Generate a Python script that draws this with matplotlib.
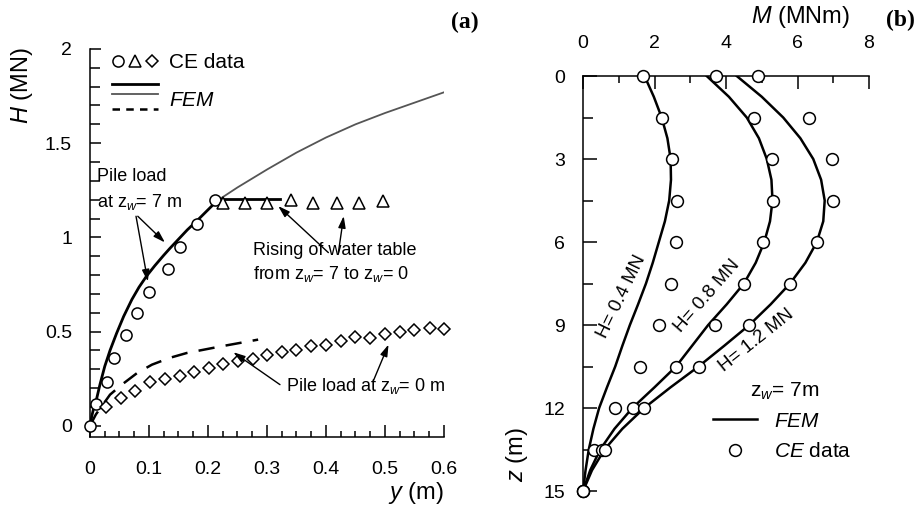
import matplotlib
matplotlib.use("Agg")
import matplotlib.pyplot as plt
from matplotlib.lines import Line2D
from matplotlib.legend_handler import HandlerBase, HandlerTuple
from matplotlib.ticker import MultipleLocator, FixedLocator, FixedFormatter

plt.rcParams['font.family'] = ['Liberation Sans', 'DejaVu Sans']
plt.rcParams['mathtext.fontset'] = 'custom'
plt.rcParams['mathtext.rm'] = 'Liberation Sans'
plt.rcParams['mathtext.it'] = 'Liberation Sans:italic'

# ---- (a) load-displacement ----
fem7_y = [0, 0.003, 0.006, 0.011, 0.017, 0.025, 0.034, 0.045, 0.057, 0.071,
          0.083, 0.096, 0.11, 0.125, 0.135, 0.153, 0.165, 0.181, 0.198, 0.215,
          0.25, 0.30, 0.35, 0.40, 0.45, 0.50, 0.55, 0.60]
fem7_H = [0, 0.05, 0.09, 0.14, 0.22, 0.315, 0.40, 0.49, 0.58, 0.67,
          0.735, 0.795, 0.85, 0.905, 0.94, 1.0, 1.04, 1.087, 1.14, 1.193,
          1.265, 1.36, 1.45, 1.53, 1.60, 1.66, 1.715, 1.77]
fem7_split = 19          # thick part ends at y = 0.215

rise_y = [0.215, 0.322]
rise_H = [1.205, 1.205]

fem0_y = [0, 0.01, 0.034, 0.054, 0.08, 0.105, 0.135, 0.164, 0.22, 0.285]
fem0_H = [0, 0.06, 0.165, 0.218, 0.28, 0.324, 0.36, 0.386, 0.42, 0.457]

ce7_y = [0, 0.01, 0.029, 0.041, 0.061, 0.08, 0.10, 0.132, 0.152, 0.181, 0.212]
ce7_H = [0, 0.117, 0.234, 0.36, 0.48, 0.60, 0.71, 0.83, 0.95, 1.07, 1.197]

tri_y = [0.225, 0.263, 0.30, 0.34, 0.378, 0.418, 0.456, 0.496]
tri_H = [1.184, 1.184, 1.184, 1.2, 1.184, 1.184, 1.184, 1.193]

dia_y = [0.027, 0.052, 0.076, 0.102, 0.127, 0.153, 0.176, 0.202, 0.226, 0.251,
         0.277, 0.30, 0.325, 0.35, 0.374, 0.40, 0.425, 0.45, 0.474, 0.50,
         0.525, 0.55, 0.576, 0.60]
dia_H = [0.097, 0.147, 0.186, 0.23, 0.248, 0.266, 0.284, 0.307, 0.328, 0.346,
         0.356, 0.378, 0.39, 0.404, 0.422, 0.43, 0.448, 0.47, 0.465, 0.488,
         0.50, 0.51, 0.52, 0.515]

ya_ticks = [0, 0.5, 1, 1.5, 2]
ya_labels = ['0', '0.5', '1', '1.5', '2']
xa_ticks = [0, 0.1, 0.2, 0.3, 0.4, 0.5, 0.6]
xa_labels = ['0', '0.1', '0.2', '0.3', '0.4', '0.5', '0.6']

# ---- (b) bending moment profiles ----
fem_depth = [0, 0.75, 1.5, 2.25, 3, 3.75, 4.5, 5.25, 6, 6.75, 7.5, 8.25, 9,
             9.75, 10.5, 11.25, 12, 12.75, 13.5, 14.25, 15]
fem_04 = [1.72, 1.98, 2.2, 2.36, 2.45, 2.46, 2.41, 2.29, 2.12, 1.95, 1.76,
          1.54, 1.31, 1.1, 0.9, 0.67, 0.45, 0.29, 0.16, 0.07, 0]
fem_08 = [3.46, 4.08, 4.58, 4.92, 5.14, 5.27, 5.3, 5.23, 5.07, 4.83, 4.5,
          4.02, 3.5, 3.05, 2.6, 2.0, 1.38, 0.88, 0.48, 0.2, 0]
fem_12 = [4.3, 5.0, 5.6, 6.08, 6.44, 6.66, 6.76, 6.72, 6.54, 6.22, 5.79,
          5.25, 4.65, 3.95, 3.23, 2.45, 1.71, 1.1, 0.6, 0.25, 0]

depth = [0, 1.5, 3, 4.5, 6, 7.5, 9, 10.5, 12, 13.5, 15]
ce_04 = [1.69, 2.2, 2.48, 2.62, 2.6, 2.46, 2.13, 1.58, 0.9, 0.31, 0]
ce_08 = [3.72, 4.79, 5.28, 5.32, 5.04, 4.5, 3.69, 2.59, 1.41, 0.52, 0]
ce_12 = [4.90, 6.33, 6.97, 7.0, 6.54, 5.79, 4.65, 3.23, 1.71, 0.62, 0]
load_labels = ['H= 0.4 MN', 'H= 0.8 MN', 'H= 1.2 MN']

zb_ticks = [0, 3, 6, 9, 12, 15]
zb_labels = ['0', '3', '6', '9', '12', '15']
mb_ticks = [0, 2, 4, 6, 8]
mb_labels = ['0', '2', '4', '6', '8']


class HandlerStack(HandlerBase):
    # several lines stacked vertically in one legend entry
    offsets = [0.99, 0.31, -0.72]

    def create_artists(self, legend, orig_handle, xdescent, ydescent,
                       width, height, fontsize, trans):
        arts = []
        for h, off in zip(orig_handle, self.offsets):
            yy = height / 2 + off * height - ydescent
            ln = Line2D([-xdescent, -xdescent + width], [yy, yy],
                        color=h.get_color(), lw=h.get_linewidth(),
                        ls=h.get_linestyle(), transform=trans)
            if h.get_linestyle() == '--':
                ln.set_dashes((3, 2.5))
            arts.append(ln)
        return arts


fig = plt.figure(figsize=(9.24, 5.14), dpi=100)
ax = fig.add_axes([0.0974, 0.1498, 0.3831, 0.7549])
bx = fig.add_axes([0.631, 0.0447, 0.3095, 0.8074])

mk = dict(ls='none', mfc='white', mec='black', mew=1.1, ms=8, clip_on=False)

l_thick, = ax.plot(fem7_y[:fem7_split + 1], fem7_H[:fem7_split + 1],
                   color='black', lw=2.0)
l_thin, = ax.plot(fem7_y[fem7_split:], fem7_H[fem7_split:],
                  color='#555555', lw=1.3)
ax.plot(rise_y, rise_H, color='black', lw=2.0)
l_dash, = ax.plot(fem0_y, fem0_H, color='black', lw=1.8, ls='--',
                  dashes=(6.5, 4.5))
p_c, = ax.plot(ce7_y, ce7_H, marker='o', zorder=3, **mk)
p_t, = ax.plot(tri_y, tri_H, marker='^', zorder=3, **{**mk, 'ms': 8.5})
p_d, = ax.plot(dia_y, dia_H, marker='D', zorder=3, **{**mk, 'ms': 6.5})

ax.set_xlim(0, 0.6)
ax.set_ylim(-0.06, 2)
for s in ['top', 'right']:
    ax.spines[s].set_visible(False)
for s in ['left', 'bottom']:
    ax.spines[s].set_linewidth(1.1)
ax.xaxis.set_major_locator(FixedLocator(xa_ticks))
ax.xaxis.set_major_formatter(FixedFormatter(xa_labels))
ax.xaxis.set_minor_locator(MultipleLocator(0.025))
ax.yaxis.set_major_locator(FixedLocator(ya_ticks))
ax.yaxis.set_major_formatter(FixedFormatter(ya_labels))
ax.yaxis.set_minor_locator(MultipleLocator(0.1))
ax.tick_params(which='both', direction='in', labelsize=14, width=1.1)
ax.tick_params(axis='x', which='major', length=9, pad=17)
ax.tick_params(axis='x', which='minor', length=4.5)
ax.tick_params(axis='y', which='major', length=8, pad=13)
ax.tick_params(axis='y', which='minor', length=7)

ax.set_ylabel(r'$\mathit{H}$ (MN)', fontsize=17, va='center')
ax.yaxis.set_label_coords(-0.192, 0.905)
ax.set_xlabel(r'$\mathit{y}$ (m)', fontsize=17, loc='right', va='center')
ax.xaxis.set_label_coords(1.0, -0.144)

ax.legend([(p_c, p_t, p_d), (l_thick, l_thin, l_dash)],
          ['CE data', r'$\mathit{FEM}$'],
          handler_map={(p_c, p_t, p_d): HandlerTuple(ndivide=None, pad=0.2),
                       (l_thick, l_thin, l_dash): HandlerStack()},
          loc='upper left', bbox_to_anchor=(0.062, 0.99),
          frameon=False, fontsize=15, borderpad=0, borderaxespad=0,
          handlelength=2.2, handletextpad=0.55, labelspacing=0.9)

arw = dict(arrowstyle='-|>,head_length=0.7,head_width=0.22', color='black',
           lw=1.0, shrinkA=0, shrinkB=0)
ax.text(0.012, 1.253, 'Pile load\nat z$_{\\mathit{w}}$= 7 m', fontsize=13,
        ha='left', va='center', linespacing=1.45)
ax.annotate('', xy=(0.127, 0.973), xytext=(0.081, 1.112), arrowprops=arw)
ax.annotate('', xy=(0.098, 0.766), xytext=(0.078, 1.112), arrowprops=arw)

ax.text(0.277, 0.863,
        'Rising of water table\nfrom z$_{\\mathit{w}}$= 7 to z$_{\\mathit{w}}$= 0',
        fontsize=13, ha='left', va='center', linespacing=1.3)
ax.annotate('', xy=(0.319, 1.166), xytext=(0.404, 0.919), arrowprops=arw)
ax.annotate('', xy=(0.43, 1.113), xytext=(0.421, 0.919), arrowprops=arw)

ax.text(0.332, 0.209, 'Pile load at z$_{\\mathit{w}}$= 0 m', fontsize=13,
        ha='left', va='center')
ax.annotate('', xy=(0.243, 0.39), xytext=(0.322, 0.218), arrowprops=arw)
ax.annotate('', xy=(0.506, 0.431), xytext=(0.48, 0.236), arrowprops=arw)

fig.text(0.503, 0.957, '(a)', fontsize=17, fontweight='bold',
         family='Liberation Serif', ha='center', va='center')

# ---- panel (b) ----
for m in [fem_04, fem_08, fem_12]:
    l_fem, = bx.plot(m, fem_depth, color='black', lw=1.8)
for c in [ce_04, ce_08, ce_12]:
    p_ce, = bx.plot(c, depth, marker='o', zorder=3, **{**mk, 'ms': 8.5})

bx.set_xlim(0, 8)
bx.set_ylim(15, 0)
bx.xaxis.tick_top()
bx.xaxis.set_label_position('top')
for s in ['bottom', 'right']:
    bx.spines[s].set_visible(False)
for s in ['left', 'top']:
    bx.spines[s].set_linewidth(1.1)
bx.xaxis.set_major_locator(FixedLocator(mb_ticks))
bx.xaxis.set_major_formatter(FixedFormatter(mb_labels))
bx.xaxis.set_minor_locator(MultipleLocator(1))
bx.yaxis.set_major_locator(FixedLocator(zb_ticks))
bx.yaxis.set_major_formatter(FixedFormatter(zb_labels))
bx.yaxis.set_minor_locator(MultipleLocator(1.5))
bx.tick_params(which='both', direction='in', labelsize=14, width=1.1)
bx.tick_params(axis='x', which='major', length=9, pad=17)
bx.tick_params(axis='x', which='minor', length=5)
bx.tick_params(axis='y', which='major', length=10, pad=13)
bx.tick_params(axis='y', which='minor', length=7)

bx.set_xlabel(r'$\mathit{M}$ (MNm)', fontsize=17, va='center')
bx.xaxis.set_label_coords(0.762, 1.142)
bx.set_ylabel(r'$\mathit{z}$ (m)', fontsize=17, va='center')
bx.yaxis.set_label_coords(-0.231, 0.087)

lab_pos = [(1.08, 7.97, 64), (3.46, 7.94, 49), (4.86, 9.57, 38.5)]
for txt, (mx, zz, rot) in zip(load_labels, lab_pos):
    bx.text(mx, zz, txt, fontsize=13.5, rotation=rot, rotation_mode='anchor',
            ha='center', va='center')

bx.text(4.67, 11.41, 'z$_{\\mathit{w}}$= 7m', fontsize=15, ha='left',
        va='center')
bx.legend([l_fem, p_ce], [r'$\mathit{FEM}$', r'$\mathit{CE}$ data'],
          loc='upper left', bbox_to_anchor=(0.4545, 0.191), frameon=False,
          fontsize=15, borderpad=0, borderaxespad=0, handlelength=2.1,
          handletextpad=0.85, labelspacing=0.55)

fig.text(0.974, 0.961, '(b)', fontsize=17, fontweight='bold',
         family='Liberation Serif', ha='center', va='center')

fig.savefig('out.png', dpi=100)
